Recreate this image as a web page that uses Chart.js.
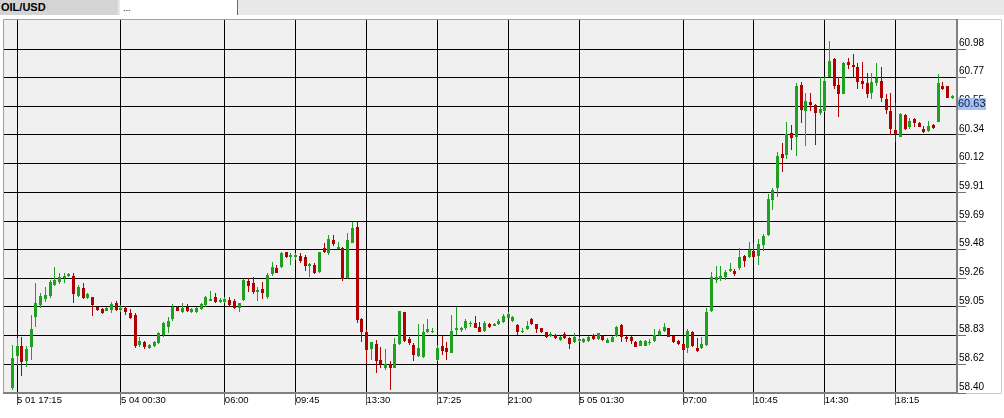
<!DOCTYPE html>
<html>
<head>
<meta charset="utf-8">
<script src="https://cdn.jsdelivr.net/npm/chart.js@4.4.0/dist/chart.umd.min.js"></script>
<style>
html, body { margin: 0; padding: 0; background: #fff; width: 1004px; height: 418px; overflow: hidden; }
#wrap { position: relative; width: 1004px; height: 418px; }
#tabs { position: absolute; left: 0; top: 0; width: 1004px; height: 15px; background: #e8e8e8; z-index: 2;
  font-family: "Liberation Sans", Arial, sans-serif; font-size: 11px; color: #000; }
.tab { position: absolute; top: 0; height: 15px; line-height: 15px; box-sizing: border-box; }
#tab1 { left: 0; width: 118px; background: #d4d4d4; font-weight: bold; padding-left: 1px; }
#tab2 { left: 120px; width: 118px; background: #fff; border-right: 1px solid #6a6a6a; padding-left: 3px; line-height: 17px; font-size: 9px; }
#chart { position: absolute; left: 0; top: 0; }
</style>
</head>
<body>
<div id="wrap">
  <div id="tabs">
    <div class="tab" id="tab1">OIL/USD</div>
    <div class="tab" id="tab2">...</div>
  </div>
  <canvas id="chart" width="1004" height="418"></canvas>
</div>
<script>
// 15 minute candles, OIL/USD
var opens = [
  58.435, 58.68, 58.753, 58.64, 58.743, 58.97, 59.06, 59.105, 59.128, 59.21,
  59.235, 59.26, 59.278, 59.28, 59.13, 59.19, 59.11, 59.12, 59.043, 59.03,
  59.015, 59.023, 59.073, 59.023, 59.04, 59.002, 58.985, 58.76, 58.78, 58.74,
  58.753, 58.773, 58.835, 58.898, 58.953, 59.043, 59.005, 59.043, 59.005, 59.005,
  59.03, 59.06, 59.092, 59.118, 59.083, 59.083, 59.098, 59.092, 59.04, 59.098,
  59.24, 59.227, 59.155, 59.18, 59.118, 59.292, 59.34, 59.343, 59.455, 59.418,
  59.418, 59.428, 59.422, 59.355, 59.36, 59.305, 59.49, 59.448, 59.548, 59.48,
  59.49, 59.26, 59.527, 59.647, 58.953, 58.86, 58.73, 58.765, 58.648, 58.59,
  58.615, 58.59, 58.765, 59.005, 58.803, 58.76, 58.68, 58.668, 58.855, 58.855,
  58.648, 58.755, 58.74, 58.702, 58.873, 58.873, 58.89, 58.915, 58.927, 58.898,
  58.865, 58.918, 58.905, 58.915, 58.93, 58.965, 58.942, 58.91, 58.855, 58.878,
  58.955, 58.915, 58.885, 58.855, 58.827, 58.835, 58.797, 58.842, 58.815, 58.78,
  58.792, 58.78, 58.792, 58.835, 58.803, 58.83, 58.777, 58.785, 58.827, 58.91,
  58.822, 58.822, 58.785, 58.755, 58.755, 58.773, 58.792, 58.835, 58.867, 58.885,
  58.827, 58.79, 58.767, 58.737, 58.86, 58.735, 58.735, 58.76, 59.015, 59.248,
  59.255, 59.268, 59.317, 59.317, 59.335, 59.428, 59.422, 59.465, 59.43, 59.51,
  59.585, 59.848, 59.935, 60.19, 60.185, 60.352, 60.322, 60.71, 60.517, 60.585,
  60.56, 60.502, 60.517, 60.772, 60.905, 60.71, 60.643, 60.885, 60.86, 60.847,
  60.742, 60.727, 60.652, 60.723, 60.742, 60.605, 60.517, 60.372, 60.322, 60.485,
  60.397, 60.455, 60.427, 60.38, 60.367, 60.41, 60.435, 60.705, 60.702, 60.61
];
var highs = [
  58.76, 58.813, 58.818, 58.755, 58.985, 59.225, 59.15, 59.195, 59.248, 59.343,
  59.298, 59.298, 59.298, 59.298, 59.21, 59.225, 59.152, 59.12, 59.053, 59.038,
  59.045, 59.085, 59.09, 59.06, 59.053, 59.028, 58.998, 58.818, 58.79, 58.765,
  58.793, 58.86, 58.935, 58.973, 59.068, 59.053, 59.073, 59.065, 59.038, 59.048,
  59.073, 59.128, 59.165, 59.148, 59.11, 59.12, 59.118, 59.105, 59.078, 59.253,
  59.26, 59.272, 59.197, 59.235, 59.298, 59.385, 59.36, 59.46, 59.46, 59.452,
  59.448, 59.448, 59.435, 59.373, 59.373, 59.46, 59.523, 59.585, 59.585, 59.53,
  59.497, 59.598, 59.685, 59.685, 58.96, 58.873, 58.785, 58.798, 58.748, 58.73,
  58.64, 58.81, 59.015, 59.01, 58.822, 58.773, 58.915, 58.917, 58.955, 58.885,
  58.76, 58.83, 58.78, 58.985, 59.043, 58.898, 58.955, 58.94, 58.98, 58.93,
  58.94, 58.923, 58.923, 58.953, 58.99, 59.005, 58.978, 58.915, 58.885, 58.94,
  58.96, 58.921, 58.891, 58.861, 58.86, 58.842, 58.83, 58.855, 58.822, 58.848,
  58.82, 58.813, 58.83, 58.842, 58.853, 58.835, 58.81, 58.83, 58.905, 58.915,
  58.827, 58.827, 58.79, 58.795, 58.797, 58.803, 58.878, 58.88, 58.927, 58.89,
  58.831, 58.794, 58.771, 58.88, 58.867, 58.81, 58.822, 59.035, 59.31, 59.355,
  59.355, 59.322, 59.377, 59.33, 59.485, 59.435, 59.535, 59.523, 59.553, 59.59,
  59.892, 59.935, 60.205, 60.277, 60.435, 60.41, 60.727, 60.735, 60.648, 60.652,
  60.567, 60.772, 60.767, 61.04, 60.91, 60.772, 60.885, 60.91, 60.942, 60.873,
  60.88, 60.798, 60.798, 60.877, 60.847, 60.64, 60.648, 60.577, 60.497, 60.49,
  60.46, 60.46, 60.432, 60.405, 60.44, 60.415, 60.79, 60.735, 60.706, 60.635
];
var lows = [
  58.423, 58.61, 58.528, 58.595, 58.648, 58.898, 59.038, 59.085, 59.11, 59.203,
  59.215, 59.223, 59.273, 59.073, 59.122, 59.103, 59.105, 58.98, 59.015, 58.99,
  59.015, 59.002, 59.015, 59.01, 58.983, 58.955, 58.74, 58.747, 58.73, 58.732,
  58.745, 58.768, 58.822, 58.852, 58.943, 59.015, 58.998, 59.01, 59.0, 59.0,
  59.023, 59.048, 59.09, 59.078, 59.078, 59.078, 59.055, 59.028, 59.01, 59.092,
  59.16, 59.14, 59.092, 59.103, 59.105, 59.28, 59.298, 59.335, 59.41, 59.36,
  59.398, 59.373, 59.315, 59.272, 59.29, 59.298, 59.452, 59.435, 59.505, 59.478,
  59.24, 59.255, 59.523, 58.923, 58.785, 58.623, 58.648, 58.548, 58.585, 58.573,
  58.423, 58.585, 58.76, 58.785, 58.76, 58.64, 58.672, 58.66, 58.848, 58.848,
  58.642, 58.685, 58.648, 58.698, 58.835, 58.86, 58.873, 58.898, 58.885, 58.855,
  58.86, 58.89, 58.903, 58.91, 58.927, 58.96, 58.935, 58.835, 58.848, 58.873,
  58.91, 58.848, 58.848, 58.815, 58.822, 58.805, 58.792, 58.805, 58.73, 58.773,
  58.785, 58.773, 58.785, 58.798, 58.798, 58.792, 58.773, 58.782, 58.822, 58.785,
  58.78, 58.767, 58.743, 58.75, 58.752, 58.76, 58.785, 58.83, 58.86, 58.818,
  58.773, 58.76, 58.623, 58.7, 58.747, 58.705, 58.73, 58.752, 59.01, 59.223,
  59.242, 59.248, 59.31, 59.28, 59.322, 59.343, 59.415, 59.418, 59.36, 59.465,
  59.58, 59.772, 59.868, 60.06, 60.155, 60.222, 60.18, 60.427, 60.255, 60.515,
  60.26, 60.485, 60.51, 60.768, 60.68, 60.468, 60.64, 60.828, 60.76, 60.68,
  60.68, 60.615, 60.605, 60.702, 60.585, 60.493, 60.335, 60.28, 60.318, 60.372,
  60.38, 60.397, 60.395, 60.348, 60.355, 60.38, 60.43, 60.672, 60.61, 60.605
];
var closes = [
  58.665, 58.755, 58.635, 58.73, 58.882, 59.073, 59.128, 59.135, 59.235, 59.248,
  59.268, 59.28, 59.29, 59.14, 59.197, 59.11, 59.14, 59.06, 59.023, 59.002,
  59.04, 59.068, 59.023, 59.04, 59.01, 58.965, 58.753, 58.79, 58.743, 58.758,
  58.785, 58.848, 58.923, 58.943, 59.043, 59.017, 59.035, 59.017, 59.03, 59.04,
  59.065, 59.122, 59.105, 59.083, 59.098, 59.107, 59.06, 59.04, 59.073, 59.248,
  59.203, 59.155, 59.17, 59.148, 59.285, 59.343, 59.302, 59.452, 59.422, 59.435,
  59.435, 59.39, 59.353, 59.37, 59.302, 59.46, 59.46, 59.555, 59.515, 59.497,
  59.253, 59.548, 59.635, 58.948, 58.86, 58.723, 58.78, 58.642, 58.618, 58.615,
  58.59, 58.768, 59.015, 58.792, 58.773, 58.685, 58.735, 58.855, 58.88, 58.865,
  58.735, 58.717, 58.705, 58.865, 58.885, 58.885, 58.94, 58.927, 58.89, 58.86,
  58.927, 58.898, 58.918, 58.942, 58.98, 58.99, 58.968, 58.855, 58.865, 58.905,
  58.915, 58.878, 58.855, 58.818, 58.84, 58.81, 58.822, 58.81, 58.768, 58.822,
  58.805, 58.805, 58.822, 58.803, 58.848, 58.798, 58.798, 58.822, 58.897, 58.818,
  58.803, 58.792, 58.747, 58.79, 58.792, 58.785, 58.835, 58.865, 58.897, 58.822,
  58.785, 58.767, 58.722, 58.865, 58.753, 58.717, 58.767, 59.01, 59.272, 59.272,
  59.28, 59.31, 59.33, 59.292, 59.422, 59.392, 59.472, 59.422, 59.517, 59.577,
  59.853, 59.923, 60.178, 60.165, 60.343, 60.31, 60.705, 60.522, 60.592, 60.56,
  60.502, 60.53, 60.742, 60.892, 60.702, 60.643, 60.877, 60.86, 60.843, 60.735,
  60.717, 60.643, 60.735, 60.76, 60.61, 60.522, 60.38, 60.342, 60.492, 60.38,
  60.442, 60.422, 60.397, 60.355, 60.402, 60.39, 60.723, 60.68, 60.615, 60.63
];
var lastPrice = 60.63;

// time labels sit on these candle indices
var xTickIndex = [1, 23, 45, 60, 75, 90, 105, 120, 142, 157, 172, 187];
var xTickLabels = ['5 01 17:15', '5 04 00:30', '06:00', '09:45', '13:30', '17:25',
  '21:00', '5 05 01:30', '07:00', '10:45', '14:30', '18:15'];
var yTickValues = [58.40, 58.615, 58.83, 59.045, 59.26, 59.475, 59.69, 59.905,
  60.12, 60.335, 60.55, 60.765, 60.98];
var yTickLabels = ['58.40', '58.62', '58.83', '59.05', '59.26', '59.48', '59.69',
  '59.91', '60.12', '60.34', '60.55', '60.77', '60.98'];

var upColor = '#20a020';
var downColor = '#b00000';
var fontFamily = '"Liberation Sans", Arial, sans-serif';

var bodyData = opens.map(function(o, i) { return {x: i, y: [o, closes[i]]}; });
var wickData = lows.map(function(l, i) { return {x: i, y: [l, highs[i]]}; });
var candleColors = closes.map(function(c, i) { return c >= opens[i] ? upColor : downColor; });

// background, frame, crisp candles, current price box
var chartFrame = {
	id: 'chartFrame',
	beforeDraw: function(chart) {
		var a = chart.chartArea;
		var ctx = chart.ctx;
		ctx.save();
		ctx.fillStyle = '#f0f0f0';
		ctx.fillRect(a.left, a.top, a.right - a.left, a.bottom - a.top);
		ctx.strokeStyle = '#a0a0a0';
		ctx.lineWidth = 1;
		ctx.beginPath();
		ctx.moveTo(a.left - 0.5, a.bottom);
		ctx.lineTo(a.left - 0.5, a.top - 0.5);
		ctx.lineTo(a.right, a.top - 0.5);
		ctx.stroke();
		ctx.strokeStyle = '#cccccc';
		ctx.beginPath();
		ctx.moveTo(a.right, a.top - 0.5);
		ctx.lineTo(1001.5, a.top - 0.5);
		ctx.lineTo(1001.5, a.bottom + 0.5);
		ctx.lineTo(a.right, a.bottom + 0.5);
		ctx.stroke();
		ctx.restore();
	},
	afterDatasetsUpdate: function(chart) {
		chart.data.datasets.forEach(function(ds, di) {
			chart.getDatasetMeta(di).data.forEach(function(el) {
				el.x = Math.floor(el.x) + 0.5;
				el.y = Math.round(el.y);
				el.base = Math.round(el.base);
				if (Math.abs(el.base - el.y) < 1) {
					el.y = el.base - 1;
				}
			});
		});
	},
	afterDraw: function(chart) {
		var ctx = chart.ctx;
		var y = Math.round(chart.scales.y.getPixelForValue(lastPrice)) + 8;
		ctx.save();
		ctx.fillStyle = '#a8c0ec';
		ctx.fillRect(958, y - 6, 28, 12);
		ctx.fillStyle = '#0a1a50';
		ctx.font = '11px ' + fontFamily;
		ctx.textBaseline = 'middle';
		ctx.fillText(lastPrice.toFixed(2), 958, y);
		ctx.restore();
	}
};

new Chart(document.getElementById('chart'), {
	type: 'bar',
	data: {
		datasets: [{
			label: 'body',
			data: bodyData,
			backgroundColor: candleColors,
			barThickness: 3,
			minBarLength: 1,
			grouped: false,
			inflateAmount: 0,
			borderWidth: 0,
			order: 0
		}, {
			label: 'wick',
			data: wickData,
			backgroundColor: candleColors,
			barThickness: 1,
			grouped: false,
			inflateAmount: 0,
			borderWidth: 0,
			order: 1
		}]
	},
	options: {
		responsive: false,
		animation: false,
		events: [],
		layout: { padding: { left: 4, top: 20, right: 0, bottom: 0 } },
		plugins: {
			legend: { display: false },
			tooltip: { enabled: false }
		},
		scales: {
			x: {
				type: 'linear',
				position: 'bottom',
				offset: false,
				min: -1.76,
				max: 200,
				afterBuildTicks: function(scale) {
					scale.ticks = xTickIndex.map(function(v) { return {value: v}; });
				},
				afterFit: function(scale) { scale.height = 25; },
				grid: { offset: false, color: '#000', lineWidth: 1, drawTicks: true, tickLength: 12, tickColor: '#606060' },
				border: { display: true, color: '#808080', width: 2 },
				ticks: {
					autoSkip: false,
					maxRotation: 0,
					align: 'start',
					padding: -10,
					color: '#000',
					font: { family: fontFamily, size: 9.5 },
					callback: function(v, i) { return xTickLabels[i]; }
				}
			},
			y: {
				type: 'linear',
				position: 'right',
				min: 58.40,
				max: 61.1975,
				afterBuildTicks: function(scale) {
					scale.ticks = yTickValues.map(function(v) { return {value: v}; });
				},
				afterFit: function(scale) { scale.width = 47; },
				grid: { color: '#000', lineWidth: 1, drawTicks: true, tickLength: 9, tickColor: '#707070' },
				border: { display: true, color: '#808080', width: 2 },
				ticks: {
					padding: -7,
					labelOffset: -6,
					color: '#000',
					font: { family: fontFamily, size: 10 },
					callback: function(v, i) { return yTickLabels[i]; }
				}
			}
		}
	},
	plugins: [chartFrame]
});
</script>
</body>
</html>
